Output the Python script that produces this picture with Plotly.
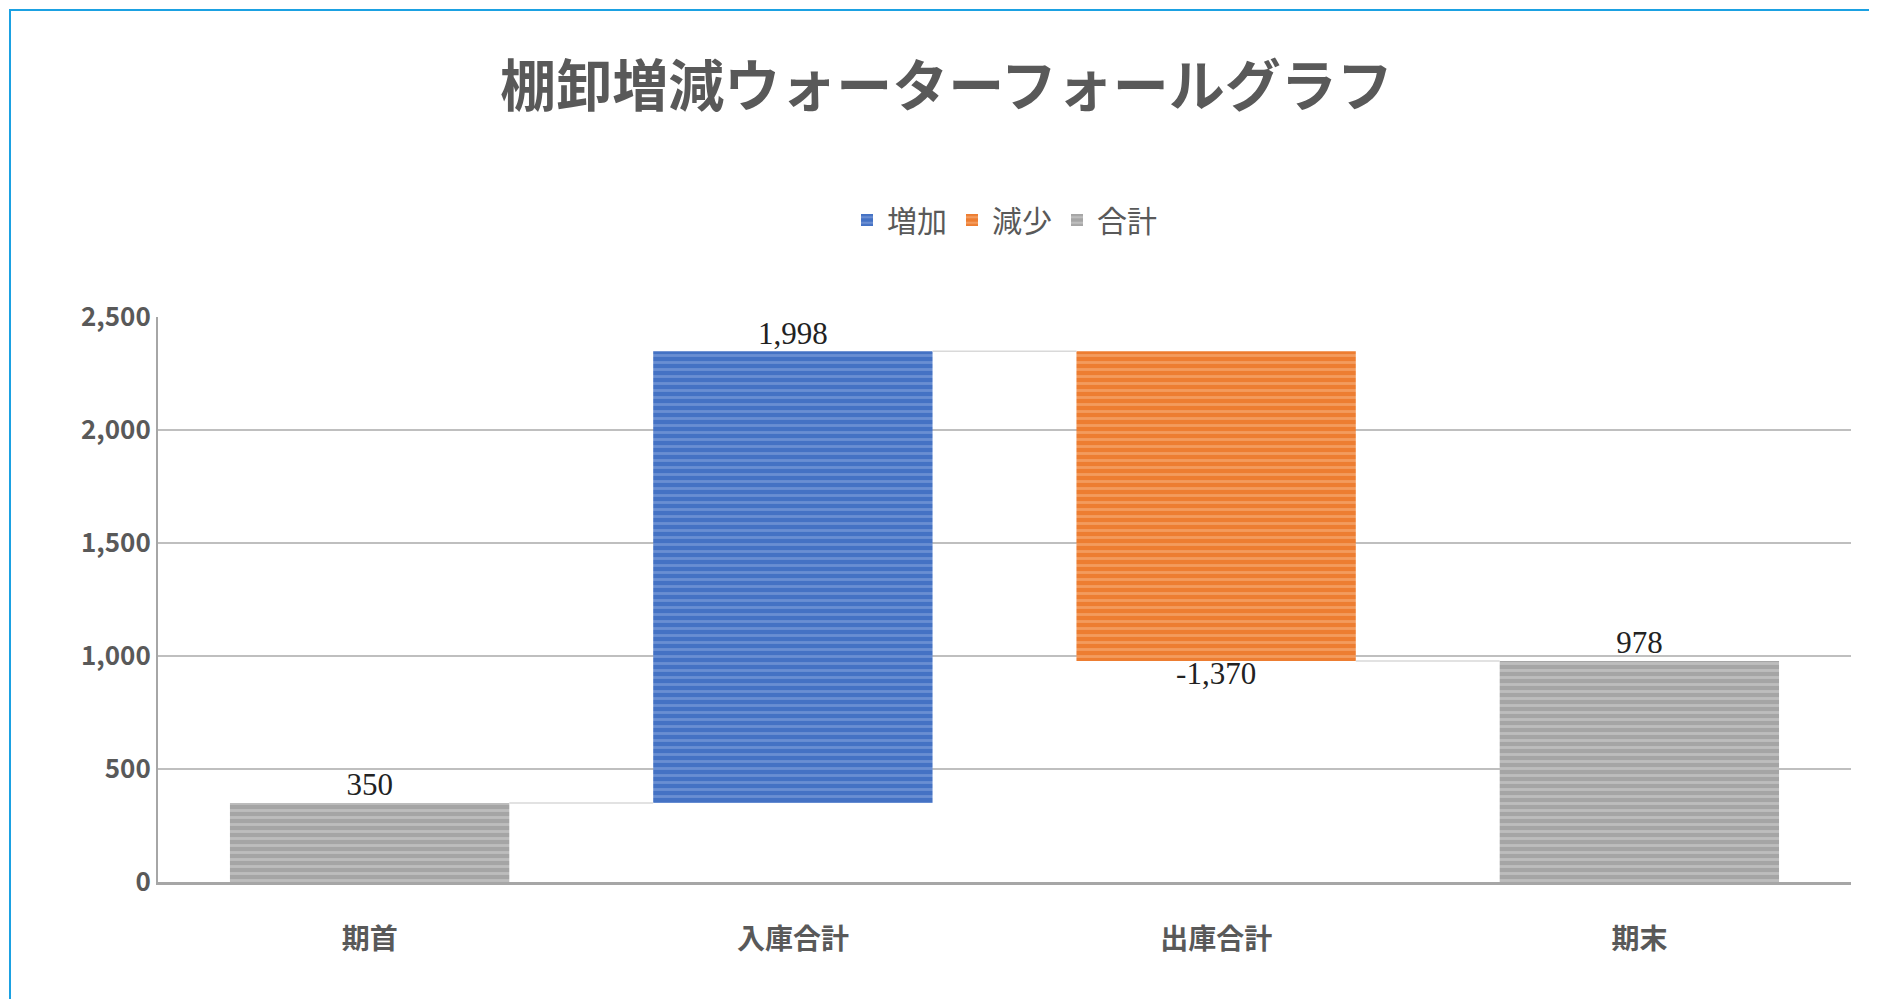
import plotly.graph_objects as go

categories = ["期首", "入庫合計", "出庫合計", "期末"]
values = [350, 1998, -1370, 978]
kinds = ["合計", "増加", "減少", "合計"]
tick_vals = [0, 500, 1000, 1500, 2000, 2500]

colors = {"増加": ("#4472C4", "#8FAAE0"), "減少": ("#ED7D31", "#F9B98A"), "合計": ("#A5A5A5", "#D6D6D6")}

bases, tops = [], []
run = 0
for v, k in zip(values, kinds):
    if k == "合計":
        b, t = 0, v
        run = v
    else:
        b, t = run, run + v
        run = t
    bases.append(min(b, t))
    tops.append(max(b, t))

font = "Noto Sans CJK JP"
fig = go.Figure()
for k in ["増加", "減少", "合計"]:
    idx = [i for i in range(len(categories)) if kinds[i] == k]
    c, p = colors[k]
    fig.add_trace(go.Bar(
        x=[categories[i] for i in idx],
        y=[tops[i] - bases[i] for i in idx],
        base=[bases[i] for i in idx],
        name=k, width=0.66,
        marker=dict(color=c, line=dict(width=0),
                    pattern=dict(shape="-", fgcolor=p, bgcolor=c, size=7, solidity=0.4)),
    ))

for i in range(len(categories) - 1):
    end = tops[i] if values[i] >= 0 else bases[i]
    fig.add_trace(go.Scatter(x=[i + 0.33, i + 1 - 0.33], y=[end, end], xaxis="x2",
                             mode="lines", line=dict(color="#D9D9D9", width=1.5),
                             showlegend=False, hoverinfo="skip"))

lab_y = [tops[i] if values[i] >= 0 else bases[i] for i in range(len(values))]
fig.add_trace(go.Scatter(
    x=categories, y=lab_y, mode="text",
    text=[f"{v:,}" for v in values],
    textposition=["top center" if v >= 0 else "bottom center" for v in values],
    textfont=dict(family="Liberation Serif", size=31, color="#222"),
    showlegend=False, hoverinfo="skip"))

W, H = 1877, 999
ml, mr, mt, mb = 150, 34, 309, 125
pw, ph = W - ml - mr, H - mt - mb
fig.update_layout(
    width=W, height=H, margin=dict(l=ml, r=mr, t=mt, b=mb),
    paper_bgcolor="white", plot_bgcolor="white", barmode="overlay",
    title=dict(text="<b>棚卸増減ウォーターフォールグラフ</b>", x=0.5, xanchor="center",
               y=1 - 78 / H, yanchor="middle",
               font=dict(family=font, size=56, color="#595959")),
    legend=dict(orientation="h", x=0.5, xanchor="center", y=1 + (mt - 212) / ph, yanchor="middle",
                font=dict(family=font, size=30, color="#595959"), traceorder="normal"),
    xaxis=dict(categoryorder="array", categoryarray=categories, showgrid=False, showline=True,
               linecolor="#A6A6A6", linewidth=3, ticklabelstandoff=30,
               tickfont=dict(family=font, size=28, color="#595959", weight="bold")),
    xaxis2=dict(overlaying="x", range=[-0.5, 3.5], visible=False),
    yaxis=dict(range=[0, 2500], tickvals=tick_vals, tickformat=",", gridcolor="#BFBFBF", gridwidth=2,
               showline=True, linecolor="#A6A6A6", linewidth=2, zeroline=False,
               tickfont=dict(family=font, size=26, color="#595959", weight="bold")),
    shapes=[dict(type="rect", xref="paper", yref="paper",
                 x0=-(ml - 2) / pw, x1=1 + (mr - 2) / pw, y0=-(mb - 2) / ph, y1=1 + (mt - 2) / ph,
                 line=dict(color="#1BA1E2", width=2))],
)
fig.write_html("out.html")
